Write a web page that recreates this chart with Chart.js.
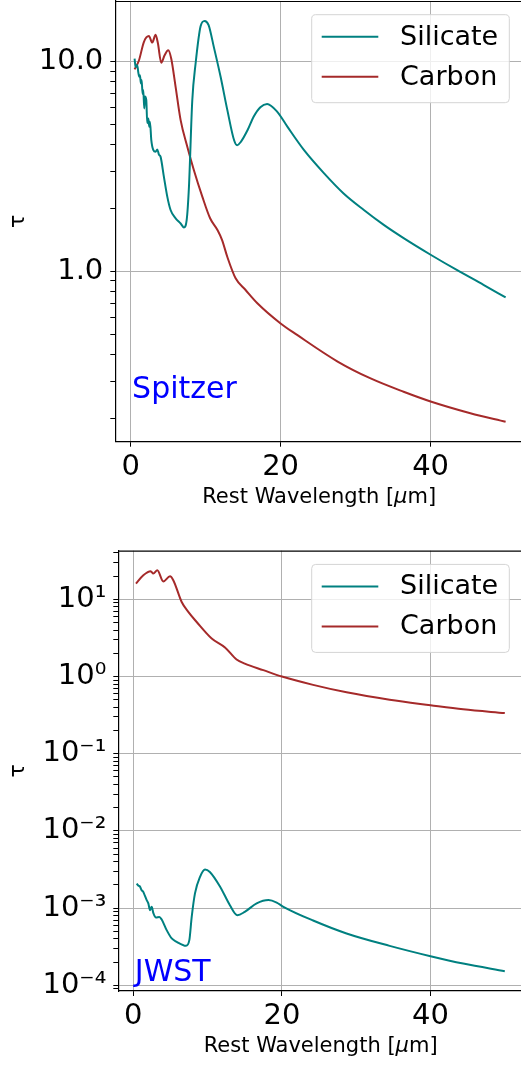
<!DOCTYPE html>
<html><head><meta charset="utf-8">
<script src="https://cdn.jsdelivr.net/npm/chart.js@4.4.1/dist/chart.umd.min.js"></script>
<style>
html,body{margin:0;padding:0;background:#fff;}
canvas{position:absolute;left:0;}
</style></head><body>
<canvas id="c1" width="521" height="530" style="top:0px"></canvas>
<canvas id="c2" width="521" height="536" style="top:530px"></canvas>
<script>
// ---------- data ----------
const seriesNames = ['Silicate', 'Carbon'];
const xTickValues = [0, 20, 40];
const xAxisTitleParts = ['Rest Wavelength [', 'μ', 'm]'];   // μ drawn oblique
const yAxisTitle = 'τ';

// Spitzer panel
const spSilX = [0.53,0.67,0.89,1.02,1.16,1.24,1.38,1.47,1.6,1.69,1.82,1.91,2.09,2.22,2.36,2.49,2.58,2.76,3.02,3.33,3.56,3.78,4.0,4.44,4.89,5.33,6.0,6.67,7.11,7.47,7.78,8.22,8.67,9.33,9.87,10.4,11.1,12.0,12.9,13.8,14.2,14.7,15.6,16.4,17.3,18.2,19.56,20.9,23.1,25.8,28.4,31.1,33.8,36.4,40,43.6,47.1,50];
const spSilY = [10.3,9.4,9.6,8.9,8.45,8.6,7.85,8.15,7.0,7.3,5.97,6.8,6.55,5.07,5.35,4.89,5.16,4.22,3.79,3.71,3.81,3.6,3.51,2.82,2.27,1.96,1.79,1.69,1.62,1.75,2.53,6.5,9.8,14.7,15.6,14.9,11.7,8.45,5.86,4.21,3.99,4.14,4.71,5.45,6.05,6.27,5.75,4.89,3.79,2.93,2.35,1.96,1.66,1.44,1.20,1.01,0.861,0.751];
const spCarX = [0.53,1.11,1.78,2.44,2.89,3.33,3.64,4.09,4.53,5.02,5.42,6.0,6.67,7.56,8.44,9.56,10.6,11.6,12.2,12.9,14.0,15.33,16.9,20,22.2,27.6,32,36.4,40,45.3,50];
const spCarY = [9.16,10.1,12.4,13.2,12.3,13.4,12.2,9.85,10.7,11.3,10.3,7.57,5.25,3.92,3.03,2.27,1.79,1.57,1.41,1.17,0.927,0.815,0.705,0.565,0.498,0.372,0.309,0.267,0.240,0.211,0.192];
const spYMajor = [1, 10];
const spYMinor = [0.2,0.3,0.4,0.5,0.6,0.7,0.8,0.9,2,3,4,5,6,7,8,9];
const spYLabels = ['1.0', '10.0'];

// JWST panel
const jwSilX = [0.45,0.7,0.9,1.1,1.35,1.55,1.8,2.02,2.25,2.47,2.7,3.06,3.5,3.82,4.49,5.17,5.84,7.09,7.54,7.86,8.3,8.98,9.65,10.3,11.7,13.0,14.0,15.0,16.6,18.2,19.3,20.2,24.2,28.7,34.5,40,44.4,50];
const jwSilY = [2.08e-3,1.95e-3,1.9e-3,1.72e-3,1.62e-3,1.45e-3,1.27e-3,1.15e-3,9.4e-4,1.04e-3,8.6e-4,7.55e-4,7.69e-4,7.11e-4,5.18e-4,4.04e-4,3.65e-4,3.24e-4,3.84e-4,7.69e-4,1.55e-3,2.54e-3,3.16e-3,2.94e-3,1.88e-3,1.09e-3,8.09e-4,8.93e-4,1.15e-3,1.27e-3,1.18e-3,1.04e-3,6.9e-4,4.69e-4,3.24e-4,2.38e-4,1.91e-4,1.52e-4];
const jwCarX = [0.36,1.35,2.34,2.69,3.23,4.04,4.94,5.38,6.51,7.40,8.53,10.55,12.34,13.9,15.0,17.5,20,24.2,28.7,34.5,40,44.4,50];
const jwCarY = [16.0,20.5,23.1,21.6,23.8,17.1,19.9,17.7,9.25,6.87,5.09,3.11,2.38,1.66,1.47,1.21,1.0,0.78,0.624,0.50,0.425,0.376,0.336];
const jwYMajor = [1e-4,1e-3,1e-2,1e-1,1,10];
const jwYMinor = [9e-5,2e-4,3e-4,4e-4,5e-4,6e-4,7e-4,8e-4,9e-4,2e-3,3e-3,4e-3,5e-3,6e-3,7e-3,8e-3,9e-3,2e-2,3e-2,4e-2,5e-2,6e-2,7e-2,8e-2,9e-2,0.2,0.3,0.4,0.5,0.6,0.7,0.8,0.9,2,3,4,5,6,7,8,9,20,30,40];
const jwYLabels = ['10⁻⁴','10⁻³','10⁻²','10⁻¹','10⁰','10¹'];

// ---------- chart ----------
const FONT = 'DejaVu Sans';
Chart.defaults.font.family = FONT;
const TEAL = '#008080', BROWN = '#a52a2a';

function zip(xs, ys) { return xs.map((x, i) => ({x: x, y: ys[i]})); }

const decor = {
  id: 'decor',
  afterDatasetsDraw(chart, args, o) {
    const ctx = chart.ctx, ca = chart.chartArea;
    ctx.save();
    // top spine
    ctx.strokeStyle = '#000'; ctx.lineWidth = 1.2;
    ctx.beginPath(); ctx.moveTo(ca.left, ca.top + 0.5); ctx.lineTo(ca.right, ca.top + 0.5); ctx.stroke();
    // legend
    const bx = 311.7, bw = 197.6, by = ca.top + 13.7, bh = 88, r = 4;
    ctx.beginPath();
    ctx.moveTo(bx + r, by); ctx.lineTo(bx + bw - r, by); ctx.arcTo(bx + bw, by, bx + bw, by + r, r);
    ctx.lineTo(bx + bw, by + bh - r); ctx.arcTo(bx + bw, by + bh, bx + bw - r, by + bh, r);
    ctx.lineTo(bx + r, by + bh); ctx.arcTo(bx, by + bh, bx, by + bh - r, r);
    ctx.lineTo(bx, by + r); ctx.arcTo(bx, by, bx + r, by, r); ctx.closePath();
    ctx.fillStyle = 'rgba(255,255,255,0.8)'; ctx.fill();
    ctx.strokeStyle = '#d4d4d4'; ctx.lineWidth = 1; ctx.stroke();
    chart.data.datasets.forEach((ds, i) => {
      const yy = by + 22 + i * 40;
      ctx.strokeStyle = ds.borderColor; ctx.lineWidth = 2;
      ctx.beginPath(); ctx.moveTo(321.7, yy); ctx.lineTo(378.3, yy); ctx.stroke();
      ctx.fillStyle = '#000'; ctx.font = '27px "' + FONT + '"';
      ctx.textBaseline = 'middle'; ctx.textAlign = 'left';
      ctx.fillText(ds.label, 400, yy + 1);
    });
    // panel note
    const xs = chart.scales.x, ys = chart.scales.y;
    ctx.fillStyle = '#0000ff'; ctx.font = '30px "' + FONT + '"';
    ctx.textBaseline = 'alphabetic'; ctx.textAlign = 'left';
    ctx.fillText(o.text, xs.getPixelForValue(o.x), ys.getPixelForValue(o.y));
    // x axis title with oblique mu
    const fN = '21px "' + FONT + '"', fI = 'oblique 21px "' + FONT + '"';
    ctx.fillStyle = '#000'; ctx.textBaseline = 'middle';
    const fonts = [fN, fI, fN];
    const widths = xAxisTitleParts.map((t, i) => { ctx.font = fonts[i]; return ctx.measureText(t).width; });
    let tx = (ca.left + ca.right) / 2 - widths.reduce((a, b) => a + b, 0) / 2 + 1;
    const ty = ca.bottom + 55.7;
    xAxisTitleParts.forEach((t, i) => { ctx.font = fonts[i]; ctx.fillText(t, tx, ty); tx += widths[i]; });
    ctx.restore();
  }
};

function makeChart(id, c) {
  const yTicks = c.yMajor.map(v => ({value: v, major: true}))
    .concat(c.yMinor.map(v => ({value: v, major: false})))
    .sort((a, b) => a.value - b.value);
  return new Chart(document.getElementById(id), {
    type: 'scatter',
    data: { datasets: [
      {label: seriesNames[0], data: zip(c.silX, c.silY), borderColor: TEAL, backgroundColor: TEAL,
       showLine: true, pointRadius: 0, borderWidth: 2, cubicInterpolationMode: 'monotone'},
      {label: seriesNames[1], data: zip(c.carX, c.carY), borderColor: BROWN, backgroundColor: BROWN,
       showLine: true, pointRadius: 0, borderWidth: 2, cubicInterpolationMode: 'monotone'}
    ]},
    options: {
      responsive: false, animation: false, devicePixelRatio: 1,
      layout: {padding: {top: c.padTop, left: 0, right: 0, bottom: 0}},
      plugins: {legend: {display: false}, tooltip: {enabled: false}, decor: c.note},
      scales: {
        x: {
          type: 'linear', min: c.xMin, max: c.xMax,
          afterBuildTicks: s => { s.ticks = xTickValues.map(v => ({value: v})); },
          afterFit: s => { s.height = c.xAxisH; s.paddingLeft = 0; s.paddingRight = 0; },
          grid: {color: '#b0b0b0', lineWidth: 1, tickColor: '#000', tickLength: 5},
          border: {display: true, color: '#000', width: 1.2},
          ticks: {font: {size: 29}, color: '#000', padding: 3, maxRotation: 0, autoSkip: false,
                  callback: v => String(v)},
          title: {display: false}
        },
        y: {
          type: 'logarithmic', min: c.yMin, max: c.yMax,
          afterBuildTicks: s => { s.ticks = yTicks.map(t => ({value: t.value, major: t.major})); },
          afterFit: s => { s.width = c.yAxisW; s.paddingTop = 0; s.paddingBottom = 0; },
          grid: {color: ctx => (ctx.tick && ctx.tick.major) ? '#b0b0b0' : 'rgba(0,0,0,0)',
                 lineWidth: 1, tickColor: '#000', tickLength: 5},
          border: {display: true, color: '#000', width: 1.2},
          ticks: {font: {size: 29}, color: '#000', padding: 7, autoSkip: false,
                  callback: (v, i, ticks) => {
                    const k = c.yMajor.indexOf(ticks[i].value);
                    return (ticks[i].major && k >= 0) ? c.yLabels[k] : '';
                  }},
          title: {display: true, text: yAxisTitle, font: {size: 22}, color: '#000',
                  padding: {top: 5, bottom: 0}}
        }
      }
    },
    plugins: [decor]
  });
}

makeChart('c1', {
  silX: spSilX, silY: spSilY, carX: spCarX, carY: spCarY,
  xMin: -2.04, xMax: 52.05, yMin: 0.1544, yMax: 19.4,
  yMajor: spYMajor, yMinor: spYMinor, yLabels: spYLabels,
  padTop: 1, xAxisH: 88.3, yAxisW: 115.3,
  note: {text: 'Spitzer', x: 0.2, y: 0.248}
});
makeChart('c2', {
  silX: jwSilX, silY: jwSilY, carX: jwCarX, carY: jwCarY,
  xMin: -2.02, xMax: 52.18, yMin: 8.43e-5, yMax: 42.7,
  yMajor: jwYMajor, yMinor: jwYMinor, yLabels: jwYLabels,
  padTop: 20.7, xAxisH: 75, yAxisW: 118.3,
  note: {text: 'JWST', x: 0.2, y: 1.13e-4}
});
</script>
</body></html>
